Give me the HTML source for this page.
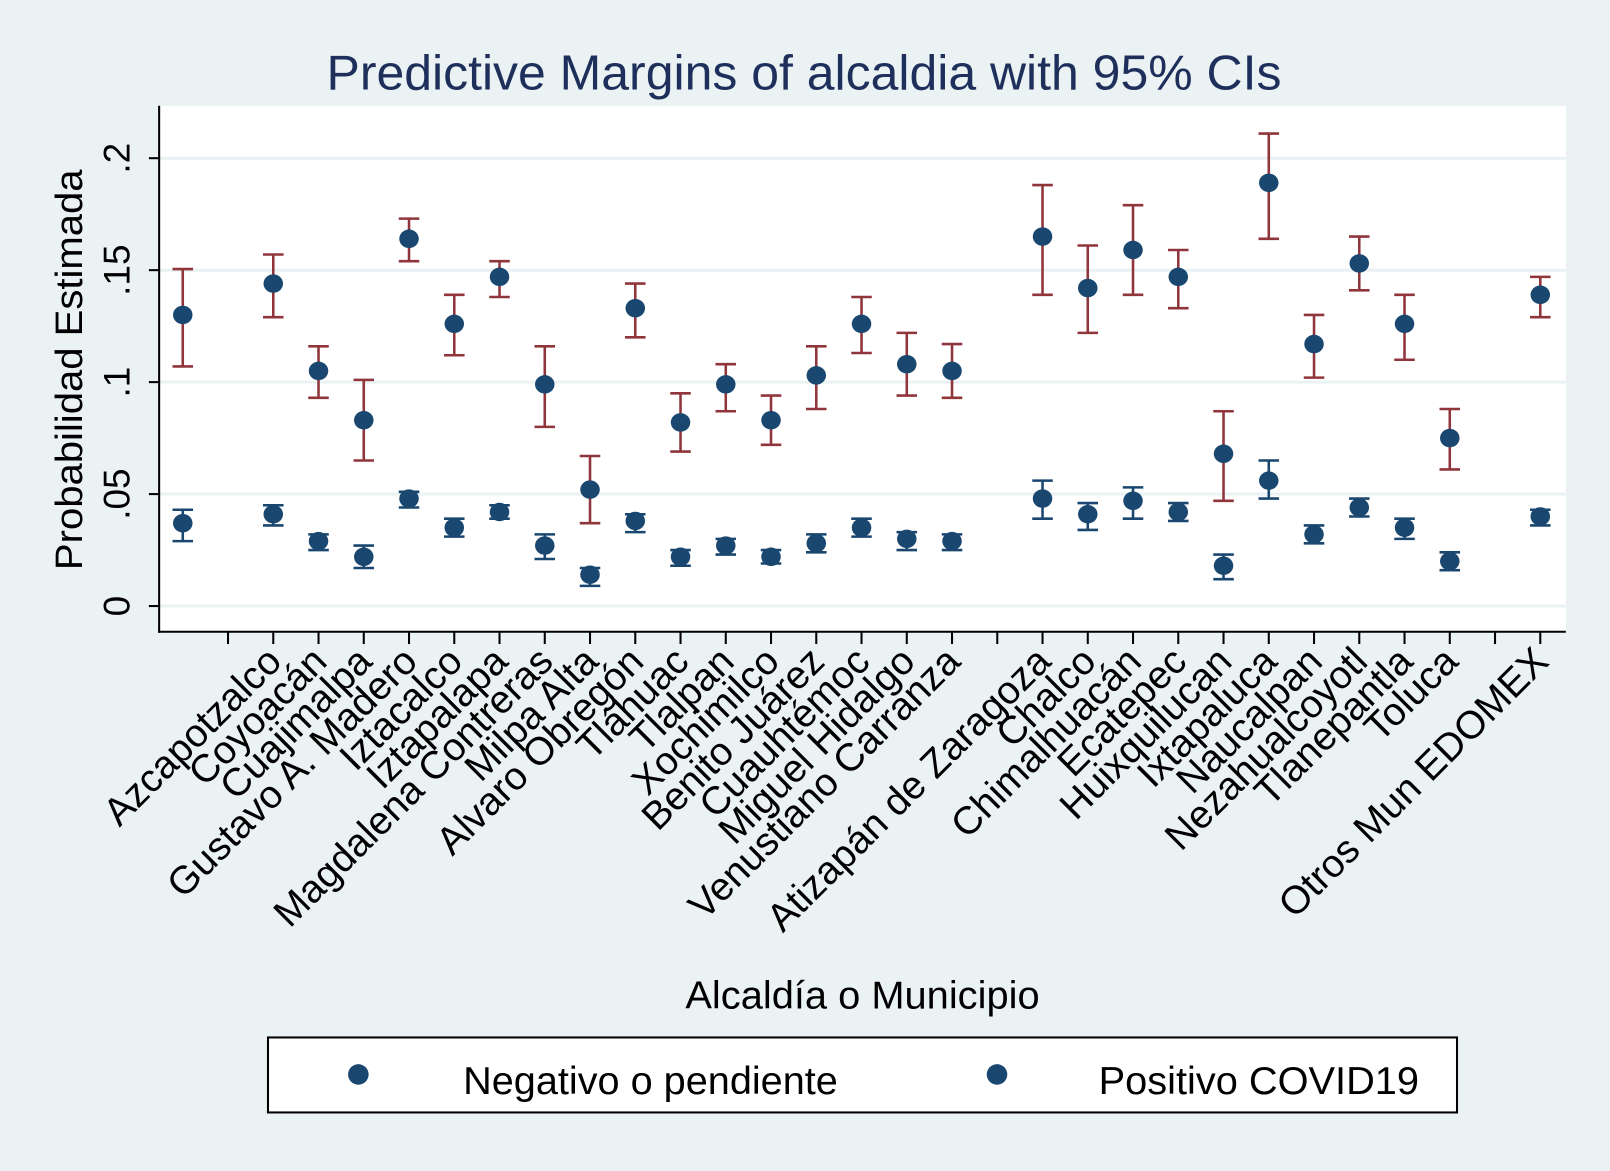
<!DOCTYPE html>
<html><head><meta charset="utf-8"><style>
html,body{margin:0;padding:0;background:#eaf2f3;}
svg{display:block;font-family:"Liberation Sans",sans-serif;}
</style></head><body>
<svg id="chart" width="1610" height="1171" viewBox="0 0 1568 1140" preserveAspectRatio="none" xmlns="http://www.w3.org/2000/svg">
<rect x="0" y="0" width="1568" height="1140" fill="#eaf2f3"/>
<rect x="155" y="103" width="1370" height="512" fill="#ffffff"/>
<text x="783" y="87" text-anchor="middle" font-size="48" fill="#1e2f5c" textLength="930" lengthAdjust="spacingAndGlyphs">Predictive Margins of alcaldia with 95% CIs</text>
<g id="grid"></g><g id="axes"></g><g id="marks"></g>
<text transform="translate(80,360) rotate(-90)" text-anchor="middle" font-size="37" fill="#000" textLength="390" lengthAdjust="spacingAndGlyphs">Probabilidad Estimada</text>
<text x="840" y="982" text-anchor="middle" font-size="38" fill="#000" textLength="345" lengthAdjust="spacingAndGlyphs">Alcaldía o Municipio</text>
<g>
<rect x="261" y="1010" width="1158" height="73" fill="#fff" stroke="#000" stroke-width="2"/>
<circle cx="349" cy="1046" r="10" fill="#1a476f"/>
<text x="451" y="1065" font-size="38" textLength="365" lengthAdjust="spacingAndGlyphs">Negativo o pendiente</text>
<circle cx="971" cy="1046" r="10" fill="#1a476f"/>
<text x="1070" y="1065" font-size="38" textLength="312" lengthAdjust="spacingAndGlyphs">Positivo COVID19</text>
</g>
</svg>
<script>
const labels=["","","Azcapotzalco","Coyoacán","Cuajimalpa","Gustavo A. Madero","Iztacalco","Iztapalapa","Magdalena Contreras","Milpa Alta","Alvaro Obregón","Tláhuac","Tlalpan","Xochimilco","Benito Juárez","Cuauhtémoc","Miguel Hidalgo","Venustiano Carranza","","Atizapán de Zaragoza","Chalco","Chimalhuacán","Ecatepec","Huixquilucan","Ixtapaluca","Naucalpan","Nezahualcoyotl","Tlanepantla","Toluca","","Otros Mun EDOMEX"];
const pointIdx=[0,2,3,4,5,6,7,8,9,10,11,12,13,14,15,16,17,19,20,21,22,23,24,25,26,27,28,30];
const negVal=[.130,.144,.105,.083,.164,.126,.147,.099,.052,.133,.082,.099,.083,.103,.126,.108,.105,.165,.142,.159,.147,.068,.189,.117,.153,.126,.075,.139];
const negHi=[.1505,.157,.116,.101,.173,.139,.154,.116,.067,.144,.095,.108,.094,.116,.138,.122,.117,.188,.161,.179,.159,.087,.211,.130,.165,.139,.088,.147];
const negLo=[.107,.129,.093,.065,.154,.112,.138,.080,.037,.120,.069,.087,.072,.088,.113,.094,.093,.139,.122,.139,.133,.047,.164,.102,.141,.110,.061,.129];
const posVal=[.037,.041,.029,.022,.048,.035,.042,.027,.014,.038,.022,.027,.022,.028,.035,.030,.029,.048,.041,.047,.042,.018,.056,.032,.044,.035,.020,.040];
const posHi=[.043,.045,.032,.027,.051,.039,.045,.032,.017,.041,.025,.030,.025,.032,.039,.033,.032,.056,.046,.053,.046,.023,.065,.036,.048,.039,.024,.043];
const posLo=[.029,.036,.025,.017,.044,.031,.039,.021,.009,.033,.018,.023,.019,.024,.031,.025,.025,.039,.034,.039,.038,.012,.048,.028,.040,.030,.016,.036];
const yTicks=[0,.05,.1,.15,.2];
const yTickLabels=["0",".05",".1",".15",".2"];
const NS="http://www.w3.org/2000/svg";
const X=i=>178+44.07*i;
const Y=v=>590-v*2180;
function mk(t,a,p){const e=document.createElementNS(NS,t);for(const k in a)e.setAttribute(k,a[k]);p.appendChild(e);return e;}
const grid=document.getElementById('grid'),axes=document.getElementById('axes'),marks=document.getElementById('marks');
yTicks.forEach((v,i)=>{
 const g=mk('line',{x1:155,x2:1525,y1:Y(v),y2:Y(v),stroke:'#eaf2f3','stroke-width':3},grid);
 
 
 const t=mk('line',{x1:145,x2:155,y1:Y(v),y2:Y(v),stroke:'#000','stroke-width':2},axes);
 
 
 const tx=mk('text',{transform:`translate(126,${Y(v)}) rotate(-90)`,'text-anchor':'middle','font-size':36},axes);
 tx.textContent=yTickLabels[i];
 
 
});
mk('line',{x1:155,x2:155,y1:103,y2:616,stroke:'#000','stroke-width':2},axes);
mk('line',{x1:154,x2:1525,y1:615,y2:615,stroke:'#000','stroke-width':2},axes);
labels.forEach((l,i)=>{
 if(i<1)return;
 const t=mk('line',{x1:X(i),x2:X(i),y1:615,y2:627,stroke:'#000','stroke-width':2},axes);
 
 
 if(!l)return;
 const tx=mk('text',{transform:`translate(${X(i)+10},${646}) rotate(-45)`,'text-anchor':'end','font-size':38},axes);
 tx.textContent=l;
 
 
});
function series(vals,his,los,col,name){
 pointIdx.forEach((ix,k)=>{
  const x=X(ix);
  const g=mk('g',{stroke:col,'stroke-width':2.5},marks);
  
  
  mk('line',{x1:x,x2:x,y1:Y(his[k]),y2:Y(los[k])},g);
  mk('line',{x1:x-10,x2:x+10,y1:Y(his[k]),y2:Y(his[k])},g);
  mk('line',{x1:x-10,x2:x+10,y1:Y(los[k]),y2:Y(los[k])},g);
  const c=mk('ellipse',{cx:x,cy:Y(vals[k]),rx:9.5,ry:9,fill:'#1a476f'},marks);
  
  
 });
}
series(negVal,negHi,negLo,'#90353b','negativo');
series(posVal,posHi,posLo,'#1a476f','positivo');
</script>
</body></html>
